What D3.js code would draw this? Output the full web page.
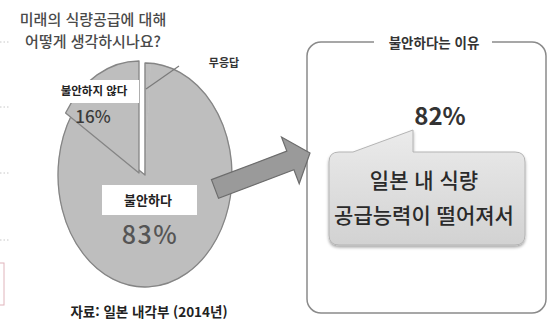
<!DOCTYPE html>
<html lang="ko">
<head>
<meta charset="utf-8">
<script src="https://cdn.jsdelivr.net/npm/d3@7"></script>
<style>
  html, body { margin: 0; padding: 0; background: #fff; }
  svg { display: block; font-family: "Noto Sans CJK KR", "Noto Sans", sans-serif; }
</style>
</head>
<body>
<svg id="chart" width="548" height="320"></svg>
<script>
// Survey: how do you feel about the future food supply?
const titleLines = ["미래의 식량공급에 대해", "어떻게 생각하시나요?"];
const sliceLabels = ["무응답", "불안하다", "불안하지 않다"];
const sliceValues = [1, 83, 16];
const reasonTitle = "불안하다는 이유";
const reasonShare = 82;
const reasonText = ["일본 내 식량", "공급능력이 떨어져서"];
const sourceNote = "자료: 일본 내각부 (2014년)";

const svg = d3.select("#chart");
const defs = svg.append("defs");

// faint remnants of a neighbouring panel at the left edge
const edge = svg.append("g");
[42, 107, 173, 240].forEach(y => {
  edge.append("line").attr("x1", 0).attr("x2", 9).attr("y1", y).attr("y2", y)
    .attr("stroke", "#c8c8c8").attr("stroke-width", 1).attr("stroke-dasharray", "1.5,2");
});
edge.append("rect").attr("x", -2).attr("y", 263).attr("width", 6).attr("height", 42)
  .attr("fill", "none").attr("stroke", "#e0b4bb").attr("stroke-width", 1);

// ---- question title ----
svg.append("g").selectAll("text").data(titleLines).join("text")
  .attr("x", 93).attr("y", (d, i) => 25 + i * 22)
  .attr("text-anchor", "middle")
  .attr("font-size", 15).attr("font-weight", 500).attr("fill", "#4a4a4a")
  .text(d => d);

// ---- pie (slightly elliptical) ----
const cx = 145, cy = 175, rx = 87, ry = 112;
const pie = d3.pie().sort(null).value(d => d.value);
const arcs = pie(sliceLabels.map((l, i) => ({ label: l, value: sliceValues[i] })));
const arcGen = d3.arc().innerRadius(0).outerRadius(1);
const pieTf = (dx, dy) => `translate(${cx + dx},${cy + dy}) scale(${rx},${ry})`;
const pieG = svg.append("g");
const pieFill = "#bebebe", pieStroke = "#858585";

// no-answer sliver and the big slice share one outline
[arcs[0], arcs[1]].forEach(a => {
  pieG.append("path").attr("d", arcGen(a)).attr("transform", pieTf(0, 0))
    .attr("fill", pieFill).attr("stroke", pieFill).attr("stroke-width", 0.6)
    .attr("vector-effect", "non-scaling-stroke");
});
pieG.append("path")
  .attr("d", arcGen({ startAngle: arcs[0].startAngle, endAngle: arcs[1].endAngle }))
  .attr("transform", pieTf(0, 0))
  .attr("fill", "none").attr("stroke", pieStroke).attr("stroke-width", 1.3)
  .attr("vector-effect", "non-scaling-stroke").attr("stroke-linejoin", "round");

// pulled-out slice
pieG.append("path").attr("d", arcGen(arcs[2])).attr("transform", pieTf(-6, -2))
  .attr("fill", pieFill).attr("stroke", pieStroke).attr("stroke-width", 1.3)
  .attr("vector-effect", "non-scaling-stroke").attr("stroke-linejoin", "round");

// leader line for the no-answer sliver
pieG.append("line")
  .attr("x1", cx + 1).attr("y1", cy - 86)
  .attr("x2", cx + 34).attr("y2", cy - 109)
  .attr("stroke", "#7a7a7a").attr("stroke-width", 1.2);
svg.append("text").attr("x", 224).attr("y", 67)
  .attr("text-anchor", "middle").attr("font-size", 11).attr("font-weight", 700)
  .attr("fill", "#333").text(sliceLabels[0]);

// label box for the pulled-out slice
svg.append("rect").attr("x", 55).attr("y", 80).attr("width", 84).attr("height", 23).attr("fill", "#fff");
svg.append("text").attr("x", 94).attr("y", 95)
  .attr("text-anchor", "middle").attr("font-size", 11.5).attr("font-weight", 700)
  .attr("fill", "#222").text(sliceLabels[2]);
svg.append("text").attr("x", 93).attr("y", 123)
  .attr("text-anchor", "middle").attr("font-size", 17).attr("font-weight", 500)
  .attr("fill", "#3a3a3a").text(sliceValues[2] + "%");

// label box for the big slice
svg.append("rect").attr("x", 102).attr("y", 185).attr("width", 95).attr("height", 30).attr("fill", "#fff");
svg.append("text").attr("x", 148).attr("y", 205)
  .attr("text-anchor", "middle").attr("font-size", 13).attr("font-weight", 700)
  .attr("fill", "#222").text(sliceLabels[1]);
svg.append("text").attr("x", 150).attr("y", 244)
  .attr("text-anchor", "middle").attr("font-size", 25).attr("font-weight", 500)
  .attr("letter-spacing", 1.5)
  .attr("fill", "#555").text(sliceValues[1] + "%");

// source note
svg.append("text").attr("x", 149).attr("y", 317)
  .attr("text-anchor", "middle").attr("font-size", 13.5).attr("font-weight", 700)
  .attr("fill", "#222").text(sourceNote);

// ---- reasons panel ----
const box = { x: 307, y: 42, w: 239, h: 271 };
svg.append("rect").attr("x", box.x).attr("y", box.y).attr("width", box.w).attr("height", box.h)
  .attr("rx", 14).attr("fill", "#fff").attr("stroke", "#8a8a8a").attr("stroke-width", 1.5);
svg.append("rect").attr("x", 374).attr("y", 35).attr("width", 118).attr("height", 14).attr("fill", "#fff");
svg.append("text").attr("x", 434).attr("y", 48)
  .attr("text-anchor", "middle").attr("font-size", 13.5).attr("font-weight", 700)
  .attr("fill", "#333").text(reasonTitle);

svg.append("text").attr("x", 440).attr("y", 125)
  .attr("text-anchor", "middle").attr("font-size", 24).attr("font-weight", 700)
  .attr("fill", "#333").text(reasonShare + "%");

// callout bubble
const grad = defs.append("linearGradient").attr("id", "bubbleFill")
  .attr("x1", 0).attr("y1", 0).attr("x2", 0).attr("y2", 1);
grad.append("stop").attr("offset", "0%").attr("stop-color", "#ebebeb");
grad.append("stop").attr("offset", "100%").attr("stop-color", "#d2d2d2");
const shadow = defs.append("filter").attr("id", "bubbleShadow")
  .attr("x", "-10%").attr("y", "-10%").attr("width", "120%").attr("height", "130%");
shadow.append("feDropShadow").attr("dx", 0).attr("dy", 2).attr("stdDeviation", 1.8)
  .attr("flood-color", "#000").attr("flood-opacity", 0.35);

const bx = 329, by = 152, bw = 196, bh = 93, br = 10;
const bubble = d3.path();
bubble.moveTo(bx + br, by);
bubble.lineTo(353, by);
bubble.lineTo(413, 130);
bubble.lineTo(413, by);
bubble.lineTo(bx + bw - br, by);
bubble.quadraticCurveTo(bx + bw, by, bx + bw, by + br);
bubble.lineTo(bx + bw, by + bh - br);
bubble.quadraticCurveTo(bx + bw, by + bh, bx + bw - br, by + bh);
bubble.lineTo(bx + br, by + bh);
bubble.quadraticCurveTo(bx, by + bh, bx, by + bh - br);
bubble.lineTo(bx, by + br);
bubble.quadraticCurveTo(bx, by, bx + br, by);
bubble.closePath();
svg.append("path").attr("d", bubble.toString())
  .attr("fill", "url(#bubbleFill)").attr("stroke", "#b4b4b4").attr("stroke-width", 1)
  .attr("filter", "url(#bubbleShadow)");

svg.append("g").selectAll("text").data(reasonText).join("text")
  .attr("x", 424).attr("y", (d, i) => 188 + i * 35)
  .attr("text-anchor", "middle").attr("font-size", 21).attr("font-weight", 500)
  .attr("fill", "#2a2a2a").text(d => d);

// ---- arrow from the big slice to the panel ----
const tail = [215, 189], tip = [310, 153];
const L = Math.hypot(tip[0] - tail[0], tip[1] - tail[1]);
const ang = Math.atan2(tip[1] - tail[1], tip[0] - tail[0]) * 180 / Math.PI;
const headLen = 21, headHalf = 25, bodyHalf = 10;
const arrowPts = [
  [0, -bodyHalf], [L - headLen, -bodyHalf], [L - headLen, -headHalf], [L, 0],
  [L - headLen, headHalf], [L - headLen, bodyHalf], [0, bodyHalf]
];
svg.append("path")
  .attr("d", d3.line()(arrowPts) + "Z")
  .attr("transform", `translate(${tail[0]},${tail[1]}) rotate(${ang})`)
  .attr("fill", "#9a9a9a").attr("stroke", "#6c6c6c").attr("stroke-width", 1.2)
  .attr("stroke-linejoin", "miter");
</script>
</body>
</html>
